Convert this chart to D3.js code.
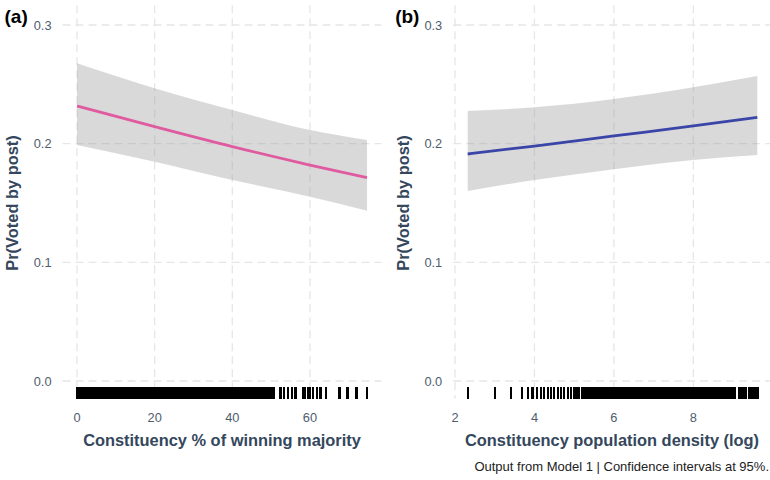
<!DOCTYPE html>
<html>
<head>
<meta charset="utf-8">
<script src="https://cdn.jsdelivr.net/npm/d3@7"></script>
<style>
  body { margin: 0; background: #fff; }
  svg { font-family: "Liberation Sans", Arial, sans-serif; }
  .grid line { stroke: #e6e6e6; stroke-width: 1.3; stroke-dasharray: 8,5; }
  .tick-label { fill: #4e5d6e; font-size: 12.8px; }
  .axis-title { fill: #34475c; font-size: 16.4px; font-weight: bold; }
  .tag { fill: #000; font-size: 19px; font-weight: bold; }
  .rug line { stroke: #000; stroke-width: 2.2; shape-rendering: crispEdges; }
</style>
</head>
<body>
<div id="chart"></div>
<script>
// panel (a): constituency % of winning majority
var majX     = [0, 20, 40, 60, 74.7];
var majFit   = [0.2317, 0.2143, 0.1975, 0.1820, 0.1713];
var majUpper = [0.2677, 0.2467, 0.2284, 0.2115, 0.2031];
var majLower = [0.1989, 0.1848, 0.1694, 0.1553, 0.1435];
var majRug = [0.1, 0.6, 1.0, 1.5, 2.0, 2.4, 2.9, 3.4, 3.9, 4.3, 4.8, 5.3, 5.8, 6.2, 6.7, 7.2, 7.7, 8.1, 8.6, 9.1,
  9.6, 10.0, 10.5, 11.0, 11.5, 11.9, 12.4, 12.9, 13.4, 13.8, 14.3, 14.8, 15.3, 15.7, 16.2, 16.7, 17.2, 17.6, 18.1,
  18.6, 19.1, 19.5, 20.0, 20.5, 21.0, 21.4, 21.9, 22.4, 22.9, 23.3, 23.8, 24.3, 24.8, 25.2, 25.7, 26.2, 26.7, 27.1,
  27.6, 28.1, 28.6, 29.0, 29.5, 30.0, 30.5, 30.9, 31.4, 31.9, 32.4, 32.8, 33.3, 33.8, 34.3, 34.7, 35.2, 35.7, 36.2,
  36.6, 37.1, 37.6, 38.1, 38.5, 39.0, 39.5, 40.0, 40.4, 40.9, 41.4, 41.9, 42.3, 42.8, 43.3, 43.8, 44.2, 44.7, 45.2,
  45.7, 46.1, 46.6, 47.1, 47.6, 48.0, 48.5, 48.9, 49.3, 49.8, 50.3, 50.8, 52.4, 53.4, 54.3, 55.4, 56.3, 58.2, 58.8,
  59.4, 60.1, 60.7, 61.9, 62.7, 64.2, 67.6, 69.7, 72.0, 74.6];
var majTicks = [0, 20, 40, 60];

// panel (b): constituency population density (log)
var denX     = [2.32, 4, 6, 8, 9.61];
var denFit   = [0.1913, 0.1980, 0.2065, 0.2149, 0.2222];
var denUpper = [0.2275, 0.2306, 0.2376, 0.2475, 0.2570];
var denLower = [0.1601, 0.1694, 0.1785, 0.1862, 0.1904];
var denRug = [2.33, 3.01, 3.41, 3.68, 3.84, 3.95, 4.07, 4.17, 4.25, 4.34, 4.42, 4.50, 4.59, 4.67, 4.75, 4.84, 4.92,
  5.01, 5.07, 5.13, 5.19, 5.23, 5.27, 5.32, 5.36, 5.41, 5.45, 5.50, 5.54, 5.59, 5.63, 5.68, 5.72, 5.77, 5.81, 5.86,
  5.90, 5.95, 5.99, 6.04, 6.08, 6.13, 6.17, 6.22, 6.26, 6.31, 6.35, 6.40, 6.44, 6.49, 6.53, 6.58, 6.62, 6.67, 6.71,
  6.76, 6.80, 6.85, 6.89, 6.94, 6.98, 7.03, 7.07, 7.12, 7.16, 7.21, 7.25, 7.30, 7.34, 7.39, 7.43, 7.48, 7.52, 7.57,
  7.61, 7.66, 7.70, 7.75, 7.79, 7.84, 7.88, 7.93, 7.97, 8.02, 8.06, 8.11, 8.15, 8.20, 8.24, 8.29, 8.33, 8.38, 8.42,
  8.47, 8.51, 8.56, 8.60, 8.65, 8.69, 8.74, 8.78, 8.83, 8.87, 8.92, 8.96, 9.01, 9.05, 9.14, 9.18, 9.23, 9.27, 9.32,
  9.41, 9.45, 9.50, 9.54, 9.59, 9.62];
var denTicks = [2, 4, 6, 8];

var yTicks = [0, 0.1, 0.2, 0.3];
var yTitle = "Pr(Voted by post)";
var caption = "Output from Model 1 | Confidence intervals at 95%.";

var chart = {};
(function(context) {

    var width = 770;
    var height = 480;
    var svg;

    var y = d3.scaleLinear().domain([-0.015, 0.315]).range([398.8, 7.2]);

    context.init = function(name) {
        svg = d3.select(name).append("svg")
            .attr("width", width)
            .attr("height", height);
    }

    context.panel = function(p) {
        var x = d3.scaleLinear().domain(p.domain).range(p.range);
        var g = svg.append("g");

        var rows = p.xs.map(function(d, i) {
            return { x: d, fit: p.fit[i], lo: p.lower[i], hi: p.upper[i] };
        });

        // gridlines
        var grid = g.append("g").attr("class", "grid");
        grid.selectAll(".h").data(yTicks).enter().append("line")
            .attr("x1", p.range[0]).attr("x2", Math.min(p.range[1], width))
            .attr("y1", function(d) { return y(d); })
            .attr("y2", function(d) { return y(d); });
        grid.selectAll(".v").data(p.ticks).enter().append("line")
            .attr("x1", function(d) { return x(d); })
            .attr("x2", function(d) { return x(d); })
            .attr("y1", y.range()[1] - 2).attr("y2", y.range()[0]);

        // confidence ribbon
        var area = d3.area()
            .x(function(d) { return x(d.x); })
            .y0(function(d) { return y(d.lo); })
            .y1(function(d) { return y(d.hi); })
            .curve(d3.curveMonotoneX);
        g.append("path").datum(rows)
            .attr("d", area)
            .attr("fill", "#999999")
            .attr("fill-opacity", 0.37);

        var line = d3.line()
            .x(function(d) { return x(d.x); })
            .y(function(d) { return y(d.fit); })
            .curve(d3.curveMonotoneX);
        g.append("path").datum(rows)
            .attr("d", line)
            .attr("fill", "none")
            .attr("stroke", p.color)
            .attr("stroke-width", 2.8);

        // rug along bottom
        var rugLen = 0.03 * (y.range()[0] - y.range()[1]);
        g.append("g").attr("class", "rug")
            .selectAll("line").data(p.rug).enter().append("line")
            .attr("x1", function(d) { return x(d); })
            .attr("x2", function(d) { return x(d); })
            .attr("y1", y.range()[0])
            .attr("y2", y.range()[0] - rugLen);

        // tick labels
        g.selectAll(".xt").data(p.ticks).enter().append("text")
            .attr("class", "tick-label")
            .attr("x", function(d) { return x(d); })
            .attr("y", 421.5)
            .attr("text-anchor", "middle")
            .text(function(d) { return d; });
        g.selectAll(".yt").data(yTicks).enter().append("text")
            .attr("class", "tick-label")
            .attr("x", p.range[0] - 11)
            .attr("y", function(d) { return y(d) + 4.5; })
            .attr("text-anchor", "end")
            .text(function(d) { return d3.format(".1f")(d); });

        // titles
        g.append("text")
            .attr("class", "axis-title")
            .attr("x", p.titleX)
            .attr("y", 446)
            .attr("text-anchor", "middle")
            .text(p.title);
        g.append("text")
            .attr("class", "axis-title")
            .attr("transform", "translate(" + (p.range[0] - 44.5) + "," + y(0.15) + ") rotate(-90)")
            .attr("text-anchor", "middle")
            .text(yTitle);
        g.append("text")
            .attr("class", "tag")
            .attr("x", p.range[0] - 58)
            .attr("y", 23)
            .text(p.tag);
    }

    context.caption = function() {
        svg.append("text")
            .attr("x", 769)
            .attr("y", 471)
            .attr("text-anchor", "end")
            .attr("fill", "#222")
            .style("font-size", "13px")
            .text(caption);
    }

})(chart);

chart.init("#chart");
chart.panel({
    tag: "(a)", title: "Constituency % of winning majority",
    xs: majX, fit: majFit, lower: majLower, upper: majUpper, rug: majRug, ticks: majTicks,
    domain: [-3.735, 78.435], range: [62.5, 381.5], titleX: 222, color: "#e05aa0"
});
chart.panel({
    tag: "(b)", title: "Constituency population density (log)",
    xs: denX, fit: denFit, lower: denLower, upper: denUpper, rug: denRug, ticks: denTicks,
    domain: [1.955, 9.985], range: [453.2, 772.2], titleX: 612, color: "#3a45a8"
});
chart.caption();
</script>
</body>
</html>
